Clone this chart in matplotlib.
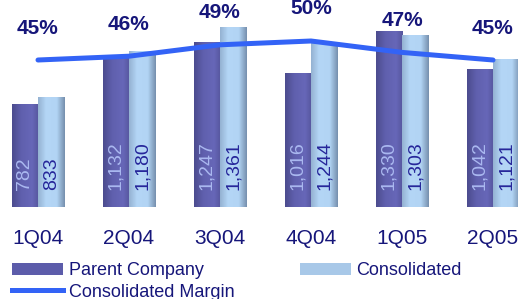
import numpy as np
import matplotlib.pyplot as plt
from matplotlib.colors import LinearSegmentedColormap
from matplotlib.patches import Patch
from matplotlib.lines import Line2D

## Data
quarters = ["1Q04", "2Q04", "3Q04", "4Q04", "1Q05", "2Q05"]
parent = [782, 1132, 1247, 1016, 1330, 1042]
consolidated = [833, 1180, 1361, 1244, 1303, 1121]
margin = [45, 46, 49, 50, 47, 45]

navy = "#16167a"
line_blue = "#3363f6"

parent_cmap = LinearSegmentedColormap.from_list(
    "parent", [(0, "#4c4c8e"), (0.35, "#6060ae"), (0.75, "#6767b8"), (1, "#56569e")])
consol_cmap = LinearSegmentedColormap.from_list(
    "consol", [(0, "#94b2d2"), (0.3, "#b4d6f6"), (0.7, "#b2d4f4"), (1, "#7690ae")])

plt.rcParams['font.family'] = ['Liberation Sans', 'DejaVu Sans']

fig = plt.figure(figsize=(5.18, 2.99), dpi=100)
# axes bottom sits at pixel 207 from top
ax = fig.add_axes([0, (299 - 207) / 299, 1, 207 / 299])
ax2 = ax.twinx()

x = np.arange(len(quarters))
w = 0.29
xlim = (-38 / 91, (518 - 38) / 91)
ylim = (0, 207 / 0.1317)

b1 = ax.bar(x - w / 2, parent, w, color="none", edgecolor="none")
b2 = ax.bar(x + w / 2, consolidated, w, color="none", edgecolor="none")

## Fill every bar with a horizontal gradient
grad = np.linspace(0, 1, 64).reshape(1, -1)
for bars, cmap in [(b1, parent_cmap), (b2, consol_cmap)]:
    for r in bars:
        x0, y0 = r.get_x(), r.get_y()
        ax.imshow(grad, cmap=cmap, aspect="auto", zorder=2,
                  extent=[x0, x0 + r.get_width(), y0, y0 + r.get_height()])

# values inside the bars
for i in range(len(quarters)):
    ax.annotate(f"{parent[i]:,}", (x[i] - w / 2, 0), xytext=(0, 17),
                textcoords="offset pixels", rotation=90, ha="center", va="bottom",
                fontsize=14, color="#aab8f0", zorder=3)
    ax.annotate(f"{consolidated[i]:,}", (x[i] + w / 2, 0), xytext=(0, 17),
                textcoords="offset pixels", rotation=90, ha="center", va="bottom",
                fontsize=14, color="#26269a", zorder=3)

ax.set_xlim(*xlim)
ax.set_ylim(*ylim)

## Margin line on its own scale
ax2.plot(x, margin, color=line_blue, lw=3.6, solid_capstyle="round",
         solid_joinstyle="round", zorder=4)
for i, m in enumerate(margin):
    ax2.annotate(f"{m}%", (x[i], m), xytext=(0, 32), textcoords="offset pixels",
                 ha="center", va="center", fontsize=15, fontweight="bold", color=navy)
ax2.set_ylim(45 - 147 / 3.8, 45 + 60 / 3.8)
ax2.set_xlim(*xlim)

for a in (ax, ax2):
    for s in a.spines.values():
        s.set_visible(False)
    a.set_yticks([])
ax.set_xticks(x, quarters, fontsize=15, color=navy)
ax.tick_params(axis="x", length=0, pad=16)

handles = [Patch(facecolor="#5c5caa"), Line2D([], [], color=line_blue, lw=3.6),
           Patch(facecolor="#a8c8e8")]
labels = ["Parent Company", "Consolidated Margin", "Consolidated"]
leg = fig.legend(handles, labels, ncol=2, loc="upper left",
                 bbox_to_anchor=(12 / 518, 1 - 262 / 299), frameon=False,
                 fontsize=13, handlelength=2.83, handleheight=0.65,
                 handletextpad=0.3, labelspacing=0.25, columnspacing=3.65,
                 borderpad=0, borderaxespad=0)
for t in leg.get_texts():
    t.set_color(navy)

fig.savefig("out.png", dpi=100)
